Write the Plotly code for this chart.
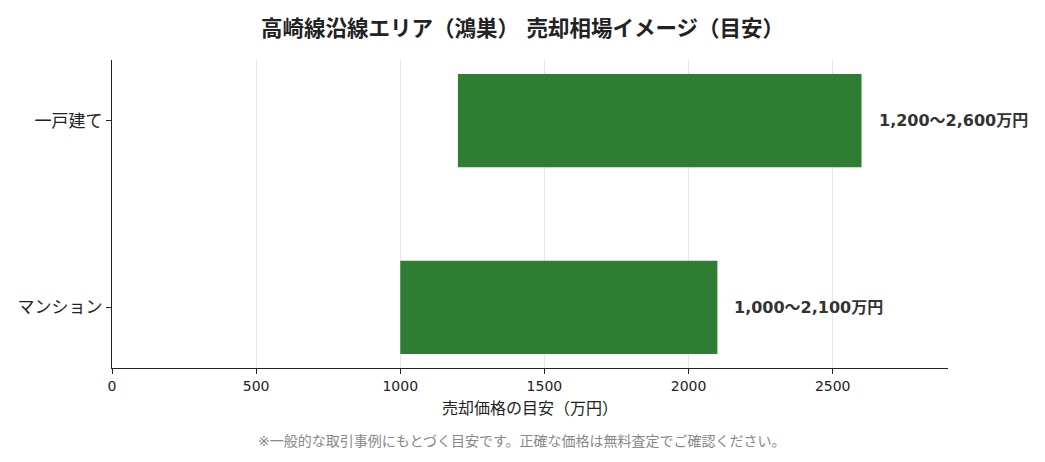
import plotly.graph_objects as go

categories = ["マンション", "一戸建て"]
low = [1000, 1200]
high = [2100, 2600]
labels = ["1,000〜2,100万円", "1,200〜2,600万円"]
x_ticks = [0, 500, 1000, 1500, 2000, 2500]

font_name = "DejaVu Sans, Noto Sans CJK JP"
green = "#2e7d32"

fig = go.Figure()
fig.add_trace(go.Bar(
    y=categories,
    x=[h - l for l, h in zip(low, high)],
    base=low,
    orientation="h",
    marker=dict(color=green, line=dict(width=0)),
    width=0.5,
    hoverinfo="skip",
))

# range labels at the right end of each bar
for cat, h, lab in zip(categories, high, labels):
    fig.add_annotation(
        x=h, y=cat, text="<b>" + lab + "</b>",
        showarrow=False, xanchor="left", xshift=15,
        font=dict(family=font_name, size=16, color="#333333"),
    )

# footnote, centred on the page rather than the plot area
fig.add_annotation(
    x=0.49, y=-0.206, xref="paper", yref="paper",
    text="※一般的な取引事例にもとづく目安です。正確な価格は無料査定でご確認ください。",
    showarrow=False, xanchor="center", yanchor="top",
    font=dict(family=font_name, size=14, color="#888888"),
)

fig.update_layout(
    width=1045, height=462,
    margin=dict(l=112, r=97, t=60, b=94),
    paper_bgcolor="white", plot_bgcolor="white",
    showlegend=False,
    font=dict(family=font_name, color="#222222"),
    title=dict(
        text="<b>高崎線沿線エリア（鴻巣） 売却相場イメージ（目安）</b>",
        x=0.5, xanchor="center", y=1 - 28 / 462, yanchor="middle",
        font=dict(family=font_name, size=21.5, color="#222222"),
    ),
    xaxis=dict(
        range=[0, 2900],
        tickvals=x_ticks,
        showgrid=True, gridcolor="#e6e6e6", gridwidth=1,
        showline=True, linecolor="#222222", linewidth=1,
        ticks="outside", ticklen=5, tickcolor="#222222",
        tickfont=dict(size=14),
        zeroline=False,
        title=dict(text="売却価格の目安（万円）", font=dict(size=16), standoff=10),
    ),
    yaxis=dict(
        range=[-0.325, 1.325],
        showgrid=False,
        showline=True, linecolor="#222222", linewidth=1,
        ticks="outside", ticklen=5, tickcolor="#222222",
        tickfont=dict(size=17),
        zeroline=False,
    ),
)

fig.write_html("out.html", config={"displayModeBar": False},
               post_script="document.body.style.margin='0';")
